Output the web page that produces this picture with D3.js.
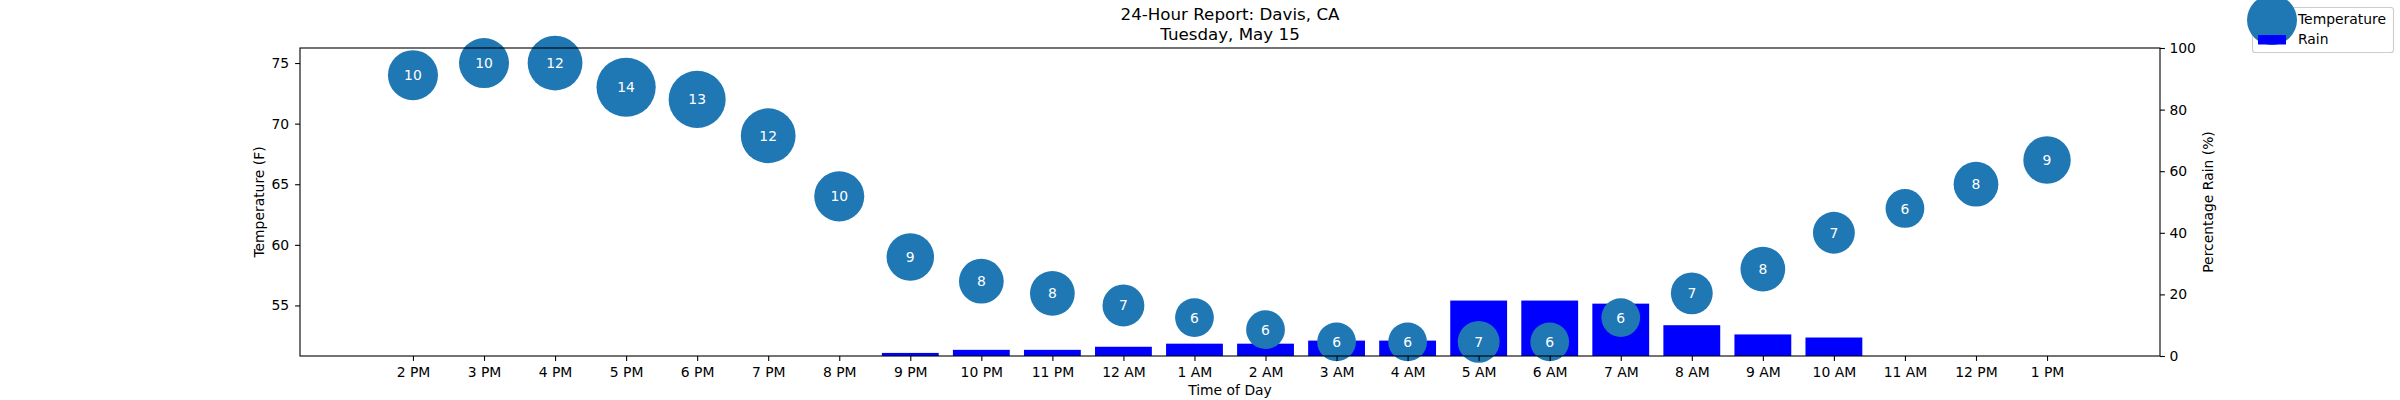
<!DOCTYPE html>
<html>
<head>
<meta charset="utf-8">
<script src="https://cdn.jsdelivr.net/npm/d3@7"></script>
<style>
  body { margin: 0; background: #ffffff; }
  svg { display: block; font-family: "DejaVu Sans", sans-serif; }
</style>
</head>
<body>
<svg id="chart" width="2400" height="400"></svg>
<script>
// data
let hours = ["2 PM", "3 PM", "4 PM", "5 PM", "6 PM", "7 PM", "8 PM", "9 PM", "10 PM", "11 PM",
    "12 AM", "1 AM", "2 AM", "3 AM", "4 AM", "5 AM", "6 AM", "7 AM", "8 AM", "9 AM",
    "10 AM", "11 AM", "12 PM", "1 PM"]
let temperature = [74, 75, 75, 73, 72, 69, 64, 59, 57, 56, 55, 54, 53, 52, 52, 52, 52, 54, 56, 58, 61, 63, 65, 67]
let wind = [10, 10, 12, 14, 13, 12, 10, 9, 8, 8, 7, 6, 6, 6, 6, 7, 6, 6, 7, 8, 7, 6, 8, 9]
let rain = [0, 0, 0, 0, 0, 0, 0, 1, 2, 2, 3, 4, 4, 5, 5, 18, 18, 17, 10, 7, 6, 0, 0, 0]
let tempTicks = [55, 60, 65, 70, 75]
let rainTicks = [0, 20, 40, 60, 80, 100]
let legendLabels = ["Temperature", "Rain"]

// colors and layout
let circleColor = "#1f77b4"
let barColor = "#0000ff"
let fontSize = 13.9
let plotLeft = 300, plotRight = 2160, plotTop = 48, plotBottom = 356

const svg = d3.select("#chart")

// scales
const x = d3.scaleLinear().domain([-1.59, 24.59]).range([plotLeft, plotRight])
const yTemp = d3.scaleLinear().domain([50.83, 76.24]).range([plotBottom, plotTop])
const yRain = d3.scaleLinear().domain([0, 100]).range([plotBottom, plotTop])
const r = d3.scaleSqrt().domain([0, d3.max(wind)]).range([0, 29.6])

// rain bars
svg.append("g")
    .selectAll("rect")
    .data(rain)
    .join("rect")
    .attr("x", (d, i) => x(i - 0.4))
    .attr("width", x(0.8) - x(0))
    .attr("y", d => yRain(d))
    .attr("height", d => yRain(0) - yRain(d))
    .attr("fill", barColor)

// temperature bubbles, sized by wind
const bubbles = svg.append("g")
    .selectAll("g")
    .data(temperature)
    .join("g")
    .attr("transform", (d, i) => `translate(${x(i)},${yTemp(d)})`)

bubbles.append("circle")
    .attr("r", (d, i) => r(wind[i]))
    .attr("fill", circleColor)

bubbles.append("text")
    .attr("text-anchor", "middle")
    .attr("dy", "0.36em")
    .attr("fill", "white")
    .style("font-size", fontSize + "px")
    .text((d, i) => wind[i])

// axes
const styleAxis = g => {
    g.attr("font-family", "DejaVu Sans").attr("font-size", fontSize)
    g.select(".domain").remove()
    g.selectAll("line").attr("stroke", "black").attr("stroke-width", 1.1)
    g.selectAll("text").attr("fill", "black")
}

svg.append("g")
    .attr("transform", `translate(0,${plotBottom})`)
    .call(d3.axisBottom(x).tickValues(d3.range(hours.length)).tickFormat(i => hours[i])
        .tickSize(4.9).tickPadding(6.5))
    .call(styleAxis)

svg.append("g")
    .attr("transform", `translate(${plotLeft},0)`)
    .call(d3.axisLeft(yTemp).tickValues(tempTicks).tickSize(4.9).tickPadding(6))
    .call(styleAxis)

svg.append("g")
    .attr("transform", `translate(${plotRight},0)`)
    .call(d3.axisRight(yRain).tickValues(rainTicks).tickSize(4.9).tickPadding(4.5))
    .call(styleAxis)

// frame
svg.append("rect")
    .attr("x", plotLeft).attr("y", plotTop)
    .attr("width", plotRight - plotLeft).attr("height", plotBottom - plotTop)
    .attr("fill", "none")
    .attr("stroke", "black")
    .attr("stroke-width", 1.1)

// titles and axis labels
let midX = (plotLeft + plotRight) / 2
let midY = (plotTop + plotBottom) / 2

svg.append("text")
    .attr("x", midX).attr("y", 19.5)
    .attr("text-anchor", "middle")
    .style("font-size", "16.7px")
    .text("24-Hour Report: Davis, CA")

svg.append("text")
    .attr("x", midX).attr("y", 40)
    .attr("text-anchor", "middle")
    .style("font-size", "16.7px")
    .text("Tuesday, May 15")

svg.append("text")
    .attr("x", midX).attr("y", 395)
    .attr("text-anchor", "middle")
    .style("font-size", fontSize + "px")
    .text("Time of Day")

svg.append("text")
    .attr("transform", `translate(259,${midY}) rotate(-90)`)
    .attr("text-anchor", "middle")
    .attr("dy", "0.36em")
    .style("font-size", fontSize + "px")
    .text("Temperature (F)")

svg.append("text")
    .attr("transform", `translate(2208,${midY}) rotate(-90)`)
    .attr("text-anchor", "middle")
    .attr("dy", "0.36em")
    .style("font-size", fontSize + "px")
    .text("Percentage Rain (%)")

// legend
const legend = svg.append("g")

legend.append("rect")
    .attr("x", 2252.5).attr("y", 7.5)
    .attr("width", 141).attr("height", 45)
    .attr("rx", 2.8)
    .attr("fill", "white")
    .attr("fill-opacity", 0.8)
    .attr("stroke", "#cccccc")
    .attr("stroke-width", 1.1)

legend.append("circle")
    .attr("cx", 2272).attr("cy", 20)
    .attr("r", 25)
    .attr("fill", circleColor)

legend.append("rect")
    .attr("x", 2258).attr("y", 35)
    .attr("width", 28).attr("height", 9.5)
    .attr("fill", barColor)

legend.selectAll("text.label")
    .data(legendLabels)
    .join("text")
    .attr("class", "label")
    .attr("x", 2298)
    .attr("y", (d, i) => 23.5 + i * 20.5)
    .style("font-size", fontSize + "px")
    .text(d => d)
</script>
</body>
</html>
